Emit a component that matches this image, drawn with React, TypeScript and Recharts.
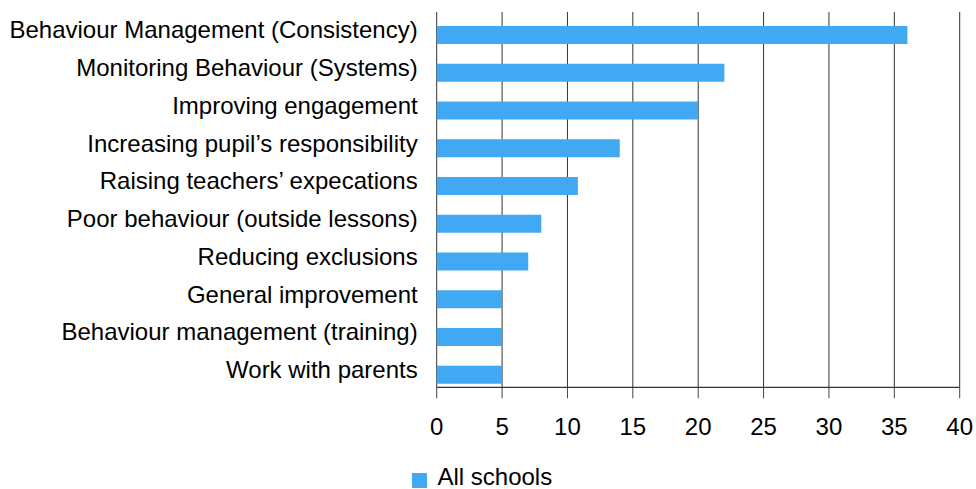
import React from "react";
import { BarChart, Bar, XAxis, YAxis, CartesianGrid, Legend } from "recharts";

const categories = [
  "Behaviour Management (Consistency)",
  "Monitoring Behaviour (Systems)",
  "Improving engagement",
  "Increasing pupil\u2019s responsibility",
  "Raising teachers\u2019 expecations",
  "Poor behaviour (outside lessons)",
  "Reducing exclusions",
  "General improvement",
  "Behaviour management (training)",
  "Work with parents",
];

const allSchools = [36, 22, 20, 14, 10.8, 8, 7, 5, 5, 5];

const xTicks = [0, 5, 10, 15, 20, 25, 30, 35, 40];

const seriesName = "All schools";

const data = categories.map((name, i) => ({ name, value: allSchools[i] }));

const FONT = "'Liberation Sans', Arial, Helvetica, sans-serif";

export default function App() {
  return (
    <div style={{ width: 976, height: 489, fontFamily: FONT }}>
      <style>{`body{margin:0;}`}</style>
      <BarChart
        width={976}
        height={489}
        data={data}
        layout="vertical"
        margin={{ top: 12, right: 16.3, left: 0, bottom: 9.7 }}
      >
        <CartesianGrid horizontal={false} vertical={true} stroke="#333" strokeWidth={1} />
        <XAxis
          type="number"
          domain={[0, 40]}
          ticks={xTicks}
          interval={0}
          height={62}
          tickSize={11}
          tickMargin={20}
          axisLine={{ stroke: "#000", strokeWidth: 1 }}
          tickLine={{ stroke: "#444", strokeWidth: 1 }}
          tick={{ fontSize: 24, fill: "#000", fontFamily: FONT }}
        />
        <YAxis
          type="category"
          dataKey="name"
          width={436.7}
          tickSize={0}
          tickMargin={19}
          axisLine={false}
          tickLine={false}
          interval={0}
          padding={{ top: 4, bottom: -6.3 }}
          tick={{ fontSize: 24, fill: "#000", fontFamily: FONT, dy: -5 }}
        />
        <Bar
          dataKey="value"
          name={seriesName}
          fill="#41A9F4"
          barSize={18}
          isAnimationActive={false}
        />
        <Legend
          verticalAlign="bottom"
          align="center"
          iconType="square"
          iconSize={15}
          wrapperStyle={{ top: 463, height: 30, fontFamily: FONT, paddingLeft: 15, boxSizing: "border-box" }}
          formatter={(value: string) => (
            <span style={{ color: "#000", fontSize: 24, marginLeft: 6 }}>{value}</span>
          )}
        />
      </BarChart>
    </div>
  );
}
